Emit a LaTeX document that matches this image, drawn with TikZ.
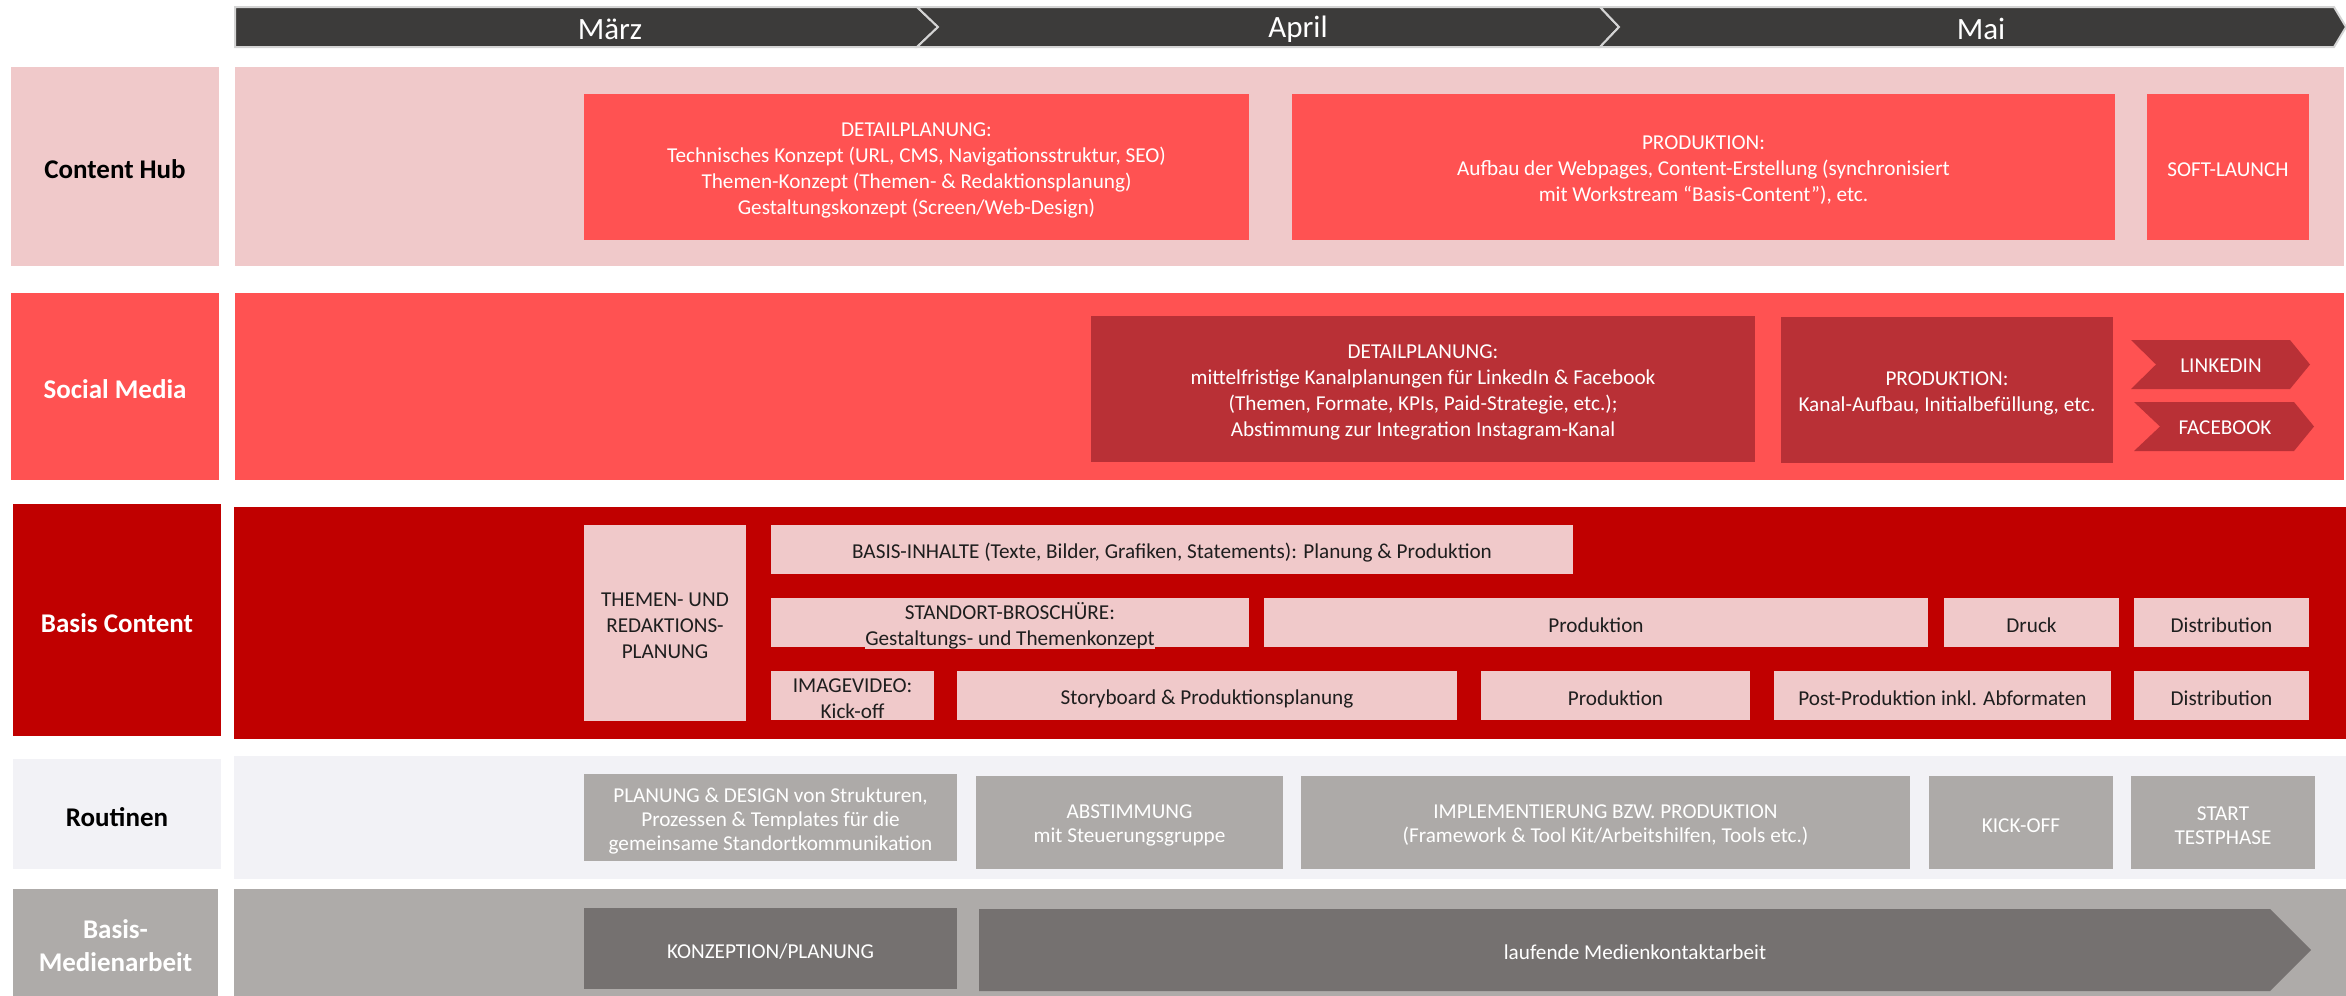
\documentclass[tikz,border=0pt]{standalone}
\usepackage{fontspec}
\setmainfont{Carlito}

\definecolor{barGray}{HTML}{3C3B3A}
\definecolor{barEdge}{HTML}{D4D4D4}
\definecolor{hubPink}{HTML}{F0C9CA}
\definecolor{hubRed}{HTML}{FF5252}
\definecolor{socDark}{HTML}{B93036}
\definecolor{baseRed}{HTML}{C00000}
\definecolor{routBg}{HTML}{F2F2F6}
\definecolor{routTask}{HTML}{ADAAA8}
\definecolor{medBg}{HTML}{AEABA9}
\definecolor{medTask}{HTML}{757170}
\definecolor{txtDark}{HTML}{1E1E1E}

% filled box spanning the pixel rectangle (x1,y1)-(x2,y2), with its text set slightly low
\newcommand\tbox[7][]{%
  \pgfmathsetmacro\tbw{(#5-#3)*0.5}%
  \pgfmathsetmacro\tbh{(#6-#4)*0.5}%
  \node[#1, minimum width=\tbw pt, minimum height=\tbh pt] (#2) at ({(#3+#5)/2},{(#4+#6)/2}) {};
  \node[#1, yshift=-1.5pt] (#2-text) at (#2.center) {#7};}

\begin{document}
\begin{tikzpicture}[x=0.5pt,y=-0.5pt,
  every node/.style={inner sep=0pt, outer sep=0pt},
  lanelabel/.style={align=center, font=\fontsize{13.5}{16.5}\selectfont\bfseries},
  task/.style={align=center, font=\fontsize{10.6}{13}\selectfont},
  rtask/.style={task, fill=routTask, text=white, font=\fontsize{10.6}{12}\selectfont},
  btask/.style={task, fill=hubPink, text=txtDark},
  month/.style={text=white, font=\fontsize{15.5}{18}\selectfont},
  seg/.style={fill=barGray, draw=barEdge, line width=1pt, line join=miter},
]
\useasboundingbox (0,0) rectangle (2346,996);

% month bar
\filldraw[seg] (235,7) -- (917,7) -- (938,27) -- (917,47) -- (235,47) -- cycle;
\filldraw[seg] (917,7) -- (1600,7) -- (1619,27) -- (1600,47) -- (917,47) -- (938,27) -- cycle;
\filldraw[seg] (1600,7) -- (2334,7) -- (2346,27) -- (2334,47) -- (1600,47) -- (1619,27) -- cycle;
\node[month] (mMar) at (610,29) {März};
\node[month] (mApr) at (1298,29) {April};
\node[month] (mMai) at (1981,29) {Mai};

% swimlane backgrounds and labels
\tbox[fill=hubPink]{laneHub}{235}{67}{2344}{266}{}
\tbox[lanelabel, fill=hubPink, text=black]{lblHub}{11}{67}{219}{266}{Content Hub}

\tbox[fill=hubRed]{laneSoc}{235}{293}{2344}{480}{}
\tbox[lanelabel, fill=hubRed, text=white]{lblSoc}{11}{293}{219}{480}{Social Media}

\tbox[fill=baseRed]{laneBase}{234}{507}{2346}{739}{}
\tbox[lanelabel, fill=baseRed, text=white]{lblBase}{13}{504}{221}{736}{Basis Content}

\tbox[fill=routBg]{laneRout}{234}{756}{2346}{879}{}
\tbox[lanelabel, fill=routBg, text=black]{lblRout}{13}{759}{221}{869}{Routinen}

\tbox[fill=medBg]{laneMed}{234}{889}{2346}{996}{}
\tbox[lanelabel, fill=medBg, text=white]{lblMed}{13}{889}{218}{996}{Basis-\\Medienarbeit}

% Content Hub
\tbox[task, fill=hubRed, text=white]{chDetail}{584}{94}{1249}{240}
  {DETAILPLANUNG:\\Technisches Konzept (URL, CMS, Navigationsstruktur, SEO)\\Themen-Konzept (Themen- \& Redaktionsplanung)\\Gestaltungskonzept (Screen/Web-Design)}
\tbox[task, fill=hubRed, text=white]{chProd}{1292}{94}{2115}{240}
  {PRODUKTION:\\Aufbau der Webpages, Content-Erstellung (synchronisiert\\mit Workstream “Basis-Content”), etc.}
\tbox[task, fill=hubRed, text=white]{chLaunch}{2147}{94}{2309}{240}{SOFT-LAUNCH}

% Social Media
\tbox[task, fill=socDark, text=white]{smDetail}{1091}{316}{1755}{462}
  {DETAILPLANUNG:\\mittelfristige Kanalplanungen für LinkedIn \& Facebook\\(Themen, Formate, KPIs, Paid-Strategie, etc.);\\Abstimmung zur Integration Instagram-Kanal}
\tbox[task, fill=socDark, text=white]{smProd}{1781}{317}{2113}{463}
  {PRODUKTION:\\Kanal-Aufbau, Initialbefüllung, etc.}
\fill[socDark] (2131,340) -- (2290,340) -- (2310,364.5) -- (2290,389) -- (2131,389) -- (2156,364.5) -- cycle;
\node[task, text=white] (smLinked) at (2221,366) {LINKEDIN};
\fill[socDark] (2134,402) -- (2294,402) -- (2314,426.5) -- (2294,451) -- (2134,451) -- (2160,426.5) -- cycle;
\node[task, text=white] (smFace) at (2225,428) {FACEBOOK};

% Basis Content
\tbox[btask]{bcThemen}{584}{525}{746}{721}{THEMEN- UND\\REDAKTIONS-\\PLANUNG}
\tbox[btask]{bcInhalte}{771}{525}{1573}{574}
  {BASIS-INHALTE (Texte, Bilder, Grafiken, Statements): Planung \& Produktion}
\tbox[btask]{bcBrosch}{771}{598}{1249}{647}{STANDORT-BROSCHÜRE:\\Gestaltungs- und Themenkonzept}
\tbox[btask]{bcProdA}{1264}{598}{1928}{647}{Produktion}
\tbox[btask]{bcDruck}{1944}{598}{2119}{647}{Druck}
\tbox[btask]{bcDistA}{2134}{598}{2309}{647}{Distribution}
\tbox[btask]{bcVideo}{771}{671}{934}{720}{IMAGEVIDEO:\\Kick-off}
\tbox[btask]{bcStory}{957}{671}{1457}{720}{Storyboard \& Produktionsplanung}
\tbox[btask]{bcProdB}{1481}{671}{1750}{720}{Produktion}
\tbox[btask]{bcPost}{1774}{671}{2111}{720}{Post-Produktion inkl. Abformaten}
\tbox[btask]{bcDistB}{2134}{671}{2309}{720}{Distribution}

% Routinen
\tbox[rtask]{rtPlan}{584}{774}{957}{861}
  {PLANUNG \& DESIGN von Strukturen,\\Prozessen \& Templates für die\\gemeinsame Standortkommunikation}
\tbox[rtask]{rtAbst}{976}{776}{1283}{869}{ABSTIMMUNG\\mit Steuerungsgruppe}
\tbox[rtask]{rtImpl}{1301}{776}{1910}{869}
  {IMPLEMENTIERUNG BZW. PRODUKTION\\(Framework \& Tool Kit/Arbeitshilfen, Tools etc.)}
\tbox[rtask]{rtKick}{1929}{776}{2113}{869}{KICK-OFF}
\tbox[rtask]{rtTest}{2131}{776}{2315}{869}{START\\TESTPHASE}

% Basis-Medienarbeit
\tbox[task, fill=medTask, text=white]{mdKonz}{584}{908}{957}{989}{KONZEPTION/PLANUNG}
\fill[medTask] (979,909) -- (2270,909) -- (2311,950) -- (2270,991) -- (979,991) -- cycle;
\node[task, text=white] (mdLauf) at (1635,952) {laufende Medienkontaktarbeit};
\end{tikzpicture}
\end{document}
